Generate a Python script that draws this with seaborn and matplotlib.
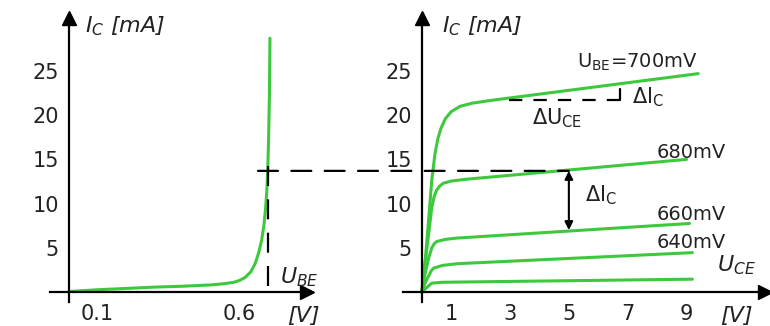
import numpy as np
import matplotlib
matplotlib.use('Agg')
import matplotlib.pyplot as plt
from matplotlib.patches import ConnectionPatch
import seaborn as sns

# input characteristic I_C(U_BE)
ube_v = [0.0, 0.1, 0.2, 0.3, 0.4, 0.5, 0.55, 0.58, 0.6, 0.62, 0.64, 0.655,
         0.668, 0.678, 0.686, 0.692, 0.696, 0.699, 0.702, 0.705, 0.707]
ic_in = [0.05, 0.25, 0.4, 0.55, 0.65, 0.8, 0.95, 1.1, 1.3, 1.65, 2.3, 3.2,
         4.5, 5.9, 7.6, 9.6, 11.5, 13.6, 17.0, 22.0, 28.7]

# output characteristics I_C(U_CE), one pair of lists per U_BE
uce_700 = [0.0, 0.11, 0.23, 0.34, 0.45, 0.55, 0.65, 0.8, 1.0, 1.3, 1.7, 2.3, 9.4]
ic_700 = [0.0, 3.3, 8.1, 12.7, 15.7, 17.4, 18.5, 19.6, 20.4, 21.0, 21.35, 21.65, 24.7]
uce_680 = [0.0, 0.11, 0.23, 0.34, 0.42, 0.5, 0.6, 0.73, 1.0, 1.5, 9.0]
ic_680 = [0.0, 3.3, 6.5, 9.6, 10.8, 11.5, 11.95, 12.3, 12.55, 12.75, 15.0]
uce_660 = [0.0, 0.11, 0.23, 0.34, 0.42, 0.5, 0.8, 1.2, 9.1]
ic_660 = [0.0, 2.0, 3.8, 5.0, 5.45, 5.7, 5.95, 6.1, 7.75]
uce_640 = [0.0, 0.11, 0.23, 0.32, 0.4, 0.7, 1.2, 9.2]
ic_640 = [0.0, 1.0, 1.8, 2.4, 2.7, 3.0, 3.2, 4.45]
uce_620 = [0.0, 0.1, 0.2, 0.34, 0.7, 9.2]
ic_620 = [0.0, 0.3, 0.6, 1.0, 1.1, 1.45]
curve_labels = ['U$_{\\mathrm{BE}}$=700mV', '680mV', '660mV', '640mV']

op_ube, op_ic = 0.7, 13.7
dic_lo = 7.0

green = '#3ec83e'
ink = '#222222'
dash = (0, (9.0, 6.0))

sns.set_style('white')
plt.rcParams['font.family'] = ['DejaVu Sans']
plt.rcParams['mathtext.fontset'] = 'dejavusans'

fig = plt.figure(figsize=(7.7, 3.26), dpi=100)
ax1 = fig.add_axes([50 / 770, 0.0745, 257 / 770, 0.8705])
ax2 = fig.add_axes([403 / 770, 0.0745, 362 / 770, 0.8705])
ax1.set_xlim(-0.065, 0.837)
ax2.set_xlim(-0.64, 11.67)
for ax in (ax1, ax2):
    ax.set_ylim(-1.1, 31.0)
    ax.set_facecolor('none')
    for s in ('top', 'right'):
        ax.spines[s].set_visible(False)
    ax.spines['left'].set_position(('data', 0))
    ax.spines['bottom'].set_position(('data', 0))
    for s in ('left', 'bottom'):
        ax.spines[s].set_linewidth(1.6)
        ax.spines[s].set_color('black')
    ax.plot(1, 0, '>', color='black', markersize=10, transform=ax.get_yaxis_transform(), clip_on=False)
    ax.plot(0, 1, '^', color='black', markersize=10, transform=ax.get_xaxis_transform(), clip_on=False)
    ax.set_yticks([5, 10, 15, 20, 25])
    ax.set_yticklabels(['5', '10', '15', '20', '25'])
    ax.tick_params(axis='y', direction='inout', length=14, width=1.5, labelsize=15,
                   labelcolor=ink, pad=0)
    ax.tick_params(axis='x', direction='inout', length=10, width=1.5, labelsize=15,
                   labelcolor=ink, pad=4)
    ax.set_xlabel('')
    ax.set_ylabel('')

ax1.set_xticks([0.1, 0.2, 0.3, 0.4, 0.5, 0.6, 0.7])
ax1.set_xticklabels(['0.1', '', '', '', '', '0.6', ''])
ax2.set_xticks(list(range(1, 11)))
ax2.set_xticklabels(['1', '', '3', '', '5', '', '7', '', '9', ''])

sns.lineplot(x=ube_v, y=ic_in, ax=ax1, color=green, lw=2.2, sort=False, estimator=None)
for xs, ys in ((uce_700, ic_700), (uce_680, ic_680), (uce_660, ic_660),
               (uce_640, ic_640), (uce_620, ic_620)):
    sns.lineplot(x=xs, y=ys, ax=ax2, color=green, lw=2.2, sort=False, estimator=None)

# operating point
ax1.plot([op_ube, op_ube], [op_ic + 0.5, -0.3], color='black', lw=1.6, ls=dash)
con = ConnectionPatch(xyA=(0.665, op_ic), coordsA=ax1.transData,
                      xyB=(5.0, op_ic), coordsB=ax2.transData,
                      color='black', lw=1.6, ls=dash)
fig.add_artist(con)
ax2.annotate('', xy=(5.0, dic_lo), xytext=(5.0, op_ic),
             arrowprops=dict(arrowstyle='<|-|>', color='black', lw=1.5,
                             mutation_scale=12, shrinkA=0, shrinkB=0))

# slope triangle on 700mV curve
ax2.plot([2.95, 6.75], [21.7, 21.7], color='black', lw=1.6, ls=(0, (6.0, 5.0)))
ax2.plot([6.75, 6.75], [21.7, 23.0], color='black', lw=1.6)

# text
ax1.text(0.058, 29.4, '$I_C$ [mA]', fontsize=16, style='italic', color=ink)
ax2.text(0.69, 29.4, '$I_C$ [mA]', fontsize=16, style='italic', color=ink)
ax1.text(0.742, 1.0, '$U_{BE}$', fontsize=16, color=ink)
ax2.text(10.05, 2.3, '$U_{CE}$', fontsize=16, color=ink)
ax1.text(0.767, -3.4, '[V]', fontsize=16, style='italic', color=ink, clip_on=False)
ax2.text(10.15, -3.4, '[V]', fontsize=16, style='italic', color=ink, clip_on=False)

label_pos = [(5.29, 25.4), (8.0, 15.1), (8.0, 8.1), (8.0, 5.0)]
for lab, (x, y) in zip(curve_labels, label_pos):
    ax2.text(x, y, lab, fontsize=14, color=ink)
ax2.text(7.16, 21.3, 'ΔI$_{\\mathrm{C}}$', fontsize=15, color=ink)
ax2.text(3.75, 19.0, 'ΔU$_{\\mathrm{CE}}$', fontsize=15, color=ink)
ax2.text(5.56, 10.2, 'ΔI$_{\\mathrm{C}}$', fontsize=15, color=ink)

fig.savefig('out.png', dpi=100)
